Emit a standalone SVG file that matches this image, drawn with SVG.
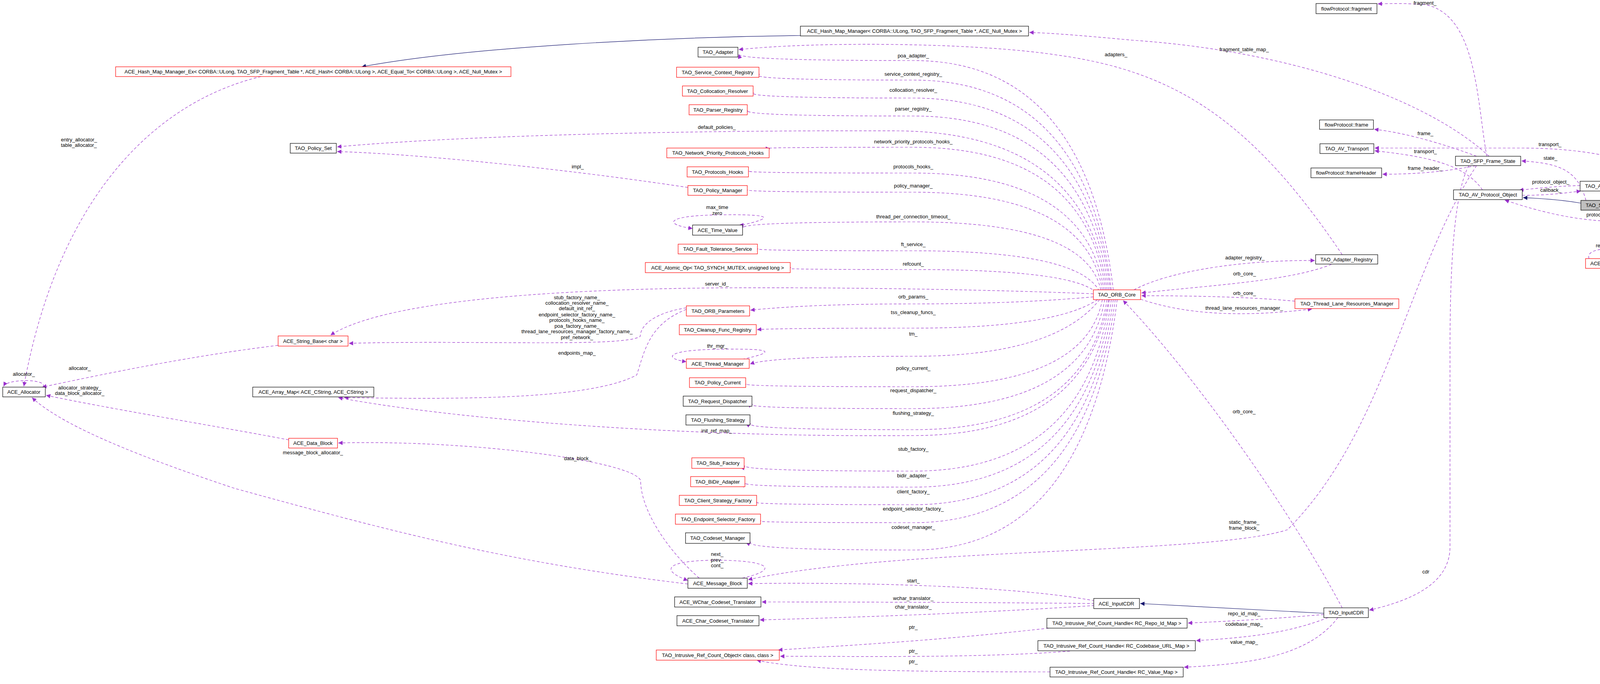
<svg xmlns="http://www.w3.org/2000/svg" width="4449" height="1751" viewBox="0 0 4449 1751">
<style>
rect{fill:#fff;stroke-width:1.2}
.b{stroke:#000}.r{stroke:#f00}.g{stroke:#000;fill:#bfbfbf}
text{font-family:"Liberation Sans",Arial,sans-serif;font-size:13px;fill:#000}
.n text{text-anchor:middle}
.l{text-anchor:middle}
#edges path{fill:none;stroke:#9a32cd;stroke-width:1.2;stroke-dasharray:7,5;marker-end:url(#a)}
#edges path.inh{stroke:#191970;stroke-dasharray:none;marker-end:url(#nv)}
</style>
<defs>
<marker id="a" viewBox="0 0 10 10" refX="10" refY="5" markerWidth="11" markerHeight="11" markerUnits="userSpaceOnUse" orient="auto"><path d="M0,0L10,5L0,10z" fill="#9a32cd"/></marker>
<marker id="nv" viewBox="0 0 10 10" refX="10" refY="5" markerWidth="11" markerHeight="11" markerUnits="userSpaceOnUse" orient="auto"><path d="M0,0L10,5L0,10z" fill="#191970"/></marker>
</defs>
<rect x="0" y="0" width="4449" height="1751" style="fill:#fff;stroke:none"/>
<g id="edges">
<path class="inh" d="M2049,91 C1700,95 1200,120 926,171"/>
<path d="M668,196 C400,260 150,500 61,989"/>
<path d="M110,991 C125,970 20,968 9,989"/>
<path d="M712,884 C500,910 300,950 108,991"/>
<path d="M739,1126 C550,1090 300,1050 118,1012"/>
<path d="M1761,1495 C1300,1440 1000,1360 600,1250 C300,1150 150,1080 82,1018"/>
<path d="M1790,1480 C1700,1400 1640,1300 1640,1230 C1620,1180 1200,1125 866,1134"/>
<path d="M1900,1480 C1990,1460 1980,1436 1840,1434 C1700,1434 1690,1460 1761,1486"/>
<path d="M2850,742 Q2780,155 2338,155 T1891,139"/>
<path d="M3436,652 C3200,300 3000,180 2700,140 C2500,110 2100,105 1891,127"/>
<path d="M2845,742 Q2780,205 2338,205 T1945,190"/>
<path d="M2842,742 Q2780,251 2338,251 T1930,237"/>
<path d="M2838,742 Q2780,297 2338,297 T1915,283"/>
<path d="M2834,742 Q2780,340 2300,335 C1800,333 1200,345 863,376"/>
<path d="M1761,480 C1500,440 1100,395 863,388"/>
<path d="M2830,742 Q2780,377 2338,377 T1971,381"/>
<path d="M2826,742 Q2780,443 2338,443 T1918,438"/>
<path d="M2822,742 Q2780,492 2338,492 T1915,486"/>
<path d="M2818,742 Q2780,568 2338,568 T1903,583"/>
<path d="M1900,576 C1990,556 1970,548 1840,550 C1700,552 1700,575 1773,585"/>
<path d="M2814,745 Q2760,642 2338,642 T1941,637"/>
<path d="M2806,748 Q2740,690 2338,690 T2025,685"/>
<path d="M2799,752 C2500,740 2100,735 1835,737 C1500,740 1000,760 846,858"/>
<path d="M2799,760 Q2600,778 2338,778 T1921,794"/>
<path d="M1757,788 C1680,800 1640,830 1639,861 C1600,890 1200,870 893,879"/>
<path d="M1757,792 C1660,830 1650,900 1630,960 C1500,1030 1100,1020 881,1018"/>
<path d="M2810,767 Q2700,840 2338,840 T1938,844"/>
<path d="M2815,767 Q2700,912 2338,912 T1920,932"/>
<path d="M1900,920 C1990,900 1980,892 1840,894 C1700,896 1700,918 1757,926"/>
<path d="M2822,767 Q2780,990 2338,990 T1911,983"/>
<path d="M2828,767 Q2780,1046 2338,1046 T1927,1035"/>
<path d="M2834,767 Q2780,1100 2338,1100 T1922,1084"/>
<path d="M2838,767 Q2780,1115 2338,1115 C1800,1120 1200,1080 866,1018"/>
<path d="M2840,767 Q2780,1206 2338,1206 T1907,1192"/>
<path d="M2845,767 Q2780,1247 2338,1247 T1909,1237"/>
<path d="M2850,767 Q2780,1292 2338,1292 T1939,1285"/>
<path d="M2855,767 Q2780,1338 2338,1338 T1949,1333"/>
<path d="M2860,767 Q2780,1408 2338,1408 T1922,1387"/>
<path d="M2920,766 C3050,810 3200,810 3359,791"/>
<path d="M3315,771 C3200,760 3050,757 2922,757"/>
<path d="M3408,677 C3300,720 3100,730 2922,750"/>
<path d="M2903,742 C3000,690 3200,665 3366,667"/>
<path d="M3812,400 C3650,250 3300,130 2900,103 C2780,92 2700,85 2635,83"/>
<path d="M3806,400 C3780,250 3780,40 3650,12 C3600,8 3560,9 3527,10"/>
<path d="M3780,400 C3700,370 3600,340 3518,331"/>
<path d="M3795,486 C3750,420 3650,400 3519,386"/>
<path d="M4340,510 C4250,420 4100,380 3900,379 C3750,379 3600,379 3519,379"/>
<path d="M3778,424 C3700,440 3620,446 3539,446"/>
<path d="M4060,513 C4040,440 4000,418 3895,412"/>
<path class="inh" d="M4047,520 C4000,512 3950,508 3899,506"/>
<path d="M4045,475 C4000,476 3950,480 3889,487"/>
<path d="M3897,500 C3960,500 4000,495 4047,489"/>
<path d="M4178,486 C4220,492 4260,500 4295,510"/>
<path d="M4281,528 C4220,530 4190,520 4162,489"/>
<path d="M4310,536 C4200,580 4050,580 3852,512"/>
<path d="M4348,536 C4300,610 4230,640 4155,662"/>
<path d="M4068,662 C4055,630 4165,630 4155,660"/>
<path d="M3780,424 C3600,700 3550,1100 3296,1356 C3100,1420 2300,1400 1915,1484"/>
<path d="M3436,1556 C3300,1300 3050,950 2875,769"/>
<path d="M3760,424 C3720,500 3712,700 3712,900 L3712,1400 C3712,1500 3600,1540 3505,1562"/>
<path class="inh" d="M3389,1570 C3200,1560 3050,1552 2919,1545"/>
<path d="M2802,1538 C2600,1500 2200,1490 1915,1494"/>
<path d="M2802,1545 C2500,1542 2200,1541 1950,1541"/>
<path d="M2802,1550 C2500,1570 2200,1580 1945,1587"/>
<path d="M3389,1573 C3250,1585 3150,1590 3041,1595"/>
<path d="M3400,1581 C3300,1620 3200,1632 3062,1640"/>
<path d="M3425,1581 C3350,1680 3200,1700 3031,1708"/>
<path d="M2685,1608 C2400,1640 2200,1650 1992,1664"/>
<path d="M2739,1667 C2500,1685 2200,1680 1997,1680"/>
<path d="M2688,1720 C2300,1720 2050,1715 1937,1690"/>
</g>
<g id="labels">
<text x="156" y="362">entry_allocator_</text><text x="156" y="376">table_allocator_</text>
<text class="l" x="61" y="962">allocator_</text>
<text class="l" x="204" y="947">allocator_</text>
<text class="l" x="204" y="997">allocator_strategy_</text><text class="l" x="204" y="1011">data_block_allocator_</text>
<text class="l" x="801" y="1163">message_block_allocator_</text>
<text class="l" x="1479" y="1178">data_block_</text>
<text class="l" x="1836" y="1423">next_</text><text class="l" x="1836" y="1438">prev_</text><text class="l" x="1836" y="1452">cont_</text>
<text class="l" x="2338" y="147">poa_adapter_</text>
<text class="l" x="2857" y="144">adapters_</text>
<text class="l" x="2338" y="194">service_context_registry_</text>
<text class="l" x="2338" y="235">collocation_resolver_</text>
<text class="l" x="2338" y="283">parser_registry_</text>
<text class="l" x="1835" y="330">default_policies_</text>
<text class="l" x="2338" y="367">network_priority_protocols_hooks_</text>
<text class="l" x="1479" y="431">impl_</text>
<text class="l" x="2338" y="431">protocols_hooks_</text>
<text class="l" x="2338" y="480">policy_manager_</text>
<text class="l" x="1836" y="535">max_time</text><text class="l" x="1836" y="550">zero</text>
<text class="l" x="2338" y="559">thread_per_connection_timeout_</text>
<text class="l" x="2338" y="630">ft_service_</text>
<text class="l" x="2338" y="680">refcount_</text>
<text class="l" x="1835" y="731">server_id_</text>
<text class="l" x="2338" y="764">orb_params_</text>
<text class="l" x="1477" y="766">stub_factory_name_</text>
<text class="l" x="1477" y="780">collocation_resolver_name_</text>
<text class="l" x="1477" y="794">default_init_ref_</text>
<text class="l" x="1477" y="810">endpoint_selector_factory_name_</text>
<text class="l" x="1477" y="824">protocols_hooks_name_</text>
<text class="l" x="1477" y="839">poa_factory_name_</text>
<text class="l" x="1477" y="853">thread_lane_resources_manager_factory_name_</text>
<text class="l" x="1477" y="868">pref_network_</text>
<text class="l" x="1477" y="908">endpoints_map_</text>
<text class="l" x="2338" y="804">tss_cleanup_funcs_</text>
<text class="l" x="2338" y="859">tm_</text>
<text class="l" x="1836" y="890">thr_mgr_</text>
<text class="l" x="2338" y="947">policy_current_</text>
<text class="l" x="2338" y="1004">request_dispatcher_</text>
<text class="l" x="2338" y="1062">flushing_strategy_</text>
<text class="l" x="1835" y="1107">init_ref_map_</text>
<text class="l" x="2338" y="1154">stub_factory_</text>
<text class="l" x="2338" y="1222">bidir_adapter_</text>
<text class="l" x="2338" y="1263">client_factory_</text>
<text class="l" x="2338" y="1307">endpoint_selector_factory_</text>
<text class="l" x="2338" y="1354">codeset_manager_</text>
<text class="l" x="2338" y="1491">start_</text>
<text class="l" x="2338" y="1536">wchar_translator_</text>
<text class="l" x="2338" y="1558">char_translator_</text>
<text class="l" x="2338" y="1610">ptr_</text>
<text class="l" x="2338" y="1671">ptr_</text>
<text class="l" x="2338" y="1698">ptr_</text>
<text class="l" x="3185" y="1058">orb_core_</text>
<text class="l" x="3185" y="1341">static_frame_</text><text class="l" x="3185" y="1356">frame_block_</text>
<text class="l" x="3650" y="1468">cdr</text>
<text class="l" x="3185" y="1575">repo_id_map_</text>
<text class="l" x="3185" y="1602">codebase_map_</text>
<text class="l" x="3185" y="1648">value_map_</text>
<text class="l" x="3648" y="12">fragment_</text>
<text class="l" x="3185" y="131">fragment_table_map_</text>
<text class="l" x="3649" y="346">frame_</text>
<text class="l" x="3968" y="374">transport_</text>
<text class="l" x="3649" y="392">transport_</text>
<text class="l" x="3969" y="409">state_</text>
<text class="l" x="3648" y="435">frame_header_</text>
<text class="l" x="3970" y="470">protocol_object_</text>
<text class="l" x="3970" y="491">callback_</text>
<text class="l" x="4228" y="486">handler_</text>
<text class="l" x="4228" y="511">callback_</text>
<text class="l" x="4109" y="554">protocol_object_</text>
<text class="l" x="4228" y="603">reactor_</text>
<text class="l" x="4109" y="633">reactor_</text>
<text class="l" x="3187" y="664">adapter_registry_</text>
<text class="l" x="3186" y="705">orb_core_</text>
<text class="l" x="3186" y="755">orb_core_</text>
<text class="l" x="3185" y="793">thread_lane_resources_manager_</text>
</g>
<g class="n" id="hashmapex"><rect class="r" x="296" y="171" width="1012" height="25"/><text x="802" y="188">ACE_Hash_Map_Manager_Ex&lt; CORBA::ULong, TAO_SFP_Fragment_Table *, ACE_Hash&lt; CORBA::ULong &gt;, ACE_Equal_To&lt; CORBA::ULong &gt;, ACE_Null_Mutex &gt;</text></g>
<g class="n" id="hashmap"><rect class="b" x="2049" y="67" width="584" height="25"/><text x="2341" y="84">ACE_Hash_Map_Manager&lt; CORBA::ULong, TAO_SFP_Fragment_Table *, ACE_Null_Mutex &gt;</text></g>
<g class="n" id="adapter"><rect class="b" x="1787" y="121" width="102" height="25"/><text x="1838" y="138">TAO_Adapter</text></g>
<g class="n" id="scr"><rect class="r" x="1732" y="172" width="211" height="26"/><text x="1837" y="190">TAO_Service_Context_Registry</text></g>
<g class="n" id="coll"><rect class="r" x="1747" y="220" width="181" height="26"/><text x="1837" y="238">TAO_Collocation_Resolver</text></g>
<g class="n" id="parser"><rect class="r" x="1764" y="268" width="149" height="26"/><text x="1838" y="286">TAO_Parser_Registry</text></g>
<g class="n" id="policyset"><rect class="b" x="743" y="367" width="118" height="25"/><text x="802" y="384">TAO_Policy_Set</text></g>
<g class="n" id="nph"><rect class="r" x="1707" y="379" width="262" height="25"/><text x="1838" y="396">TAO_Network_Priority_Protocols_Hooks</text></g>
<g class="n" id="ph"><rect class="r" x="1759" y="427" width="157" height="26"/><text x="1837" y="445">TAO_Protocols_Hooks</text></g>
<g class="n" id="pm"><rect class="r" x="1761" y="475" width="152" height="25"/><text x="1837" y="492">TAO_Policy_Manager</text></g>
<g class="n" id="tv"><rect class="b" x="1773" y="576" width="128" height="26"/><text x="1837" y="594">ACE_Time_Value</text></g>
<g class="n" id="fts"><rect class="r" x="1736" y="625" width="203" height="25"/><text x="1837" y="642">TAO_Fault_Tolerance_Service</text></g>
<g class="n" id="atomic"><rect class="r" x="1652" y="672" width="371" height="26"/><text x="1837" y="690">ACE_Atomic_Op&lt; TAO_SYNCH_MUTEX, unsigned long &gt;</text></g>
<g class="n" id="orbcore"><rect class="r" x="2799" y="742" width="121" height="25"/><text x="2859" y="759">TAO_ORB_Core</text></g>
<g class="n" id="orbparams"><rect class="r" x="1757" y="783" width="162" height="26"/><text x="1838" y="801">TAO_ORB_Parameters</text></g>
<g class="n" id="cleanup"><rect class="r" x="1739" y="831" width="197" height="26"/><text x="1837" y="849">TAO_Cleanup_Func_Registry</text></g>
<g class="n" id="thrmgr"><rect class="r" x="1757" y="919" width="161" height="24"/><text x="1837" y="936">ACE_Thread_Manager</text></g>
<g class="n" id="pc"><rect class="r" x="1765" y="967" width="144" height="25"/><text x="1837" y="984">TAO_Policy_Current</text></g>
<g class="n" id="rd"><rect class="b" x="1749" y="1014" width="176" height="26"/><text x="1837" y="1032">TAO_Request_Dispatcher</text></g>
<g class="n" id="fs"><rect class="b" x="1756" y="1062" width="164" height="26"/><text x="1838" y="1080">TAO_Flushing_Strategy</text></g>
<g class="n" id="sf"><rect class="r" x="1771" y="1172" width="134" height="27"/><text x="1838" y="1190">TAO_Stub_Factory</text></g>
<g class="n" id="bidir"><rect class="r" x="1768" y="1220" width="139" height="26"/><text x="1837" y="1238">TAO_BiDir_Adapter</text></g>
<g class="n" id="csf"><rect class="r" x="1739" y="1268" width="198" height="26"/><text x="1838" y="1286">TAO_Client_Strategy_Factory</text></g>
<g class="n" id="esf"><rect class="r" x="1729" y="1316" width="218" height="26"/><text x="1838" y="1334">TAO_Endpoint_Selector_Factory</text></g>
<g class="n" id="cm"><rect class="b" x="1755" y="1364" width="165" height="27"/><text x="1837" y="1382">TAO_Codeset_Manager</text></g>
<g class="n" id="mb"><rect class="b" x="1761" y="1480" width="152" height="26"/><text x="1837" y="1498">ACE_Message_Block</text></g>
<g class="n" id="wchar"><rect class="b" x="1727" y="1528" width="221" height="26"/><text x="1837" y="1546">ACE_WChar_Codeset_Translator</text></g>
<g class="n" id="char"><rect class="b" x="1733" y="1576" width="210" height="26"/><text x="1838" y="1594">ACE_Char_Codeset_Translator</text></g>
<g class="n" id="irco"><rect class="r" x="1680" y="1664" width="315" height="26"/><text x="1837" y="1682">TAO_Intrusive_Ref_Count_Object&lt; class, class &gt;</text></g>
<g class="n" id="alloc"><rect class="b" x="7" y="991" width="109" height="25"/><text x="61" y="1008">ACE_Allocator</text></g>
<g class="n" id="strbase"><rect class="r" x="712" y="860" width="179" height="26"/><text x="801" y="878">ACE_String_Base&lt; char &gt;</text></g>
<g class="n" id="arraymap"><rect class="b" x="647" y="991" width="310" height="25"/><text x="802" y="1008">ACE_Array_Map&lt; ACE_CString, ACE_CString &gt;</text></g>
<g class="n" id="datablock"><rect class="r" x="739" y="1122" width="125" height="25"/><text x="801" y="1139">ACE_Data_Block</text></g>
<g class="n" id="aceinputcdr"><rect class="b" x="2800" y="1532" width="117" height="26"/><text x="2858" y="1550">ACE_InputCDR</text></g>
<g class="n" id="taoinputcdr"><rect class="b" x="3389" y="1556" width="114" height="25"/><text x="3446" y="1573">TAO_InputCDR</text></g>
<g class="n" id="hrepo"><rect class="b" x="2680" y="1583" width="359" height="25"/><text x="2859" y="1600">TAO_Intrusive_Ref_Count_Handle&lt; RC_Repo_Id_Map &gt;</text></g>
<g class="n" id="hcode"><rect class="b" x="2657" y="1640" width="403" height="26"/><text x="2858" y="1658">TAO_Intrusive_Ref_Count_Handle&lt; RC_Codebase_URL_Map &gt;</text></g>
<g class="n" id="hval"><rect class="b" x="2688" y="1708" width="341" height="25"/><text x="2858" y="1725">TAO_Intrusive_Ref_Count_Handle&lt; RC_Value_Map &gt;</text></g>
<g class="n" id="areg"><rect class="b" x="3368" y="652" width="159" height="24"/><text x="3447" y="669">TAO_Adapter_Registry</text></g>
<g class="n" id="tlrm"><rect class="r" x="3315" y="765" width="266" height="25"/><text x="3448" y="782">TAO_Thread_Lane_Resources_Manager</text></g>
<g class="n" id="fragment"><rect class="b" x="3369" y="9" width="156" height="26"/><text x="3447" y="27">flowProtocol::fragment</text></g>
<g class="n" id="frame"><rect class="b" x="3378" y="307" width="138" height="24"/><text x="3447" y="324">flowProtocol::frame</text></g>
<g class="n" id="avtransport"><rect class="b" x="3379" y="368" width="138" height="25"/><text x="3448" y="385">TAO_AV_Transport</text></g>
<g class="n" id="frameheader"><rect class="b" x="3356" y="430" width="181" height="25"/><text x="3446" y="447">flowProtocol::frameHeader</text></g>
<g class="n" id="framestate"><rect class="b" x="3726" y="400" width="167" height="24"/><text x="3809" y="417">TAO_SFP_Frame_State</text></g>
<g class="n" id="protobj"><rect class="b" x="3721" y="486" width="176" height="25"/><text x="3809" y="503">TAO_AV_Protocol_Object</text></g>
<g class="n" id="avcallback"><rect class="b" x="4045" y="464" width="133" height="25"/><text x="4111" y="481">TAO_AV_Callback</text></g>
<g class="n" id="sfpobject"><rect class="g" x="4047" y="513" width="129" height="25"/><text x="4111" y="530">TAO_SFP_Object</text></g>
<g class="n" id="flowhandler"><rect class="b" x="4281" y="510" width="164" height="26"/><text x="4363" y="528">TAO_AV_Flow_Handler</text></g>
<g class="n" id="reactor"><rect class="r" x="4059" y="662" width="105" height="25"/><text x="4111" y="679">ACE_Reactor</text></g>
</svg>
